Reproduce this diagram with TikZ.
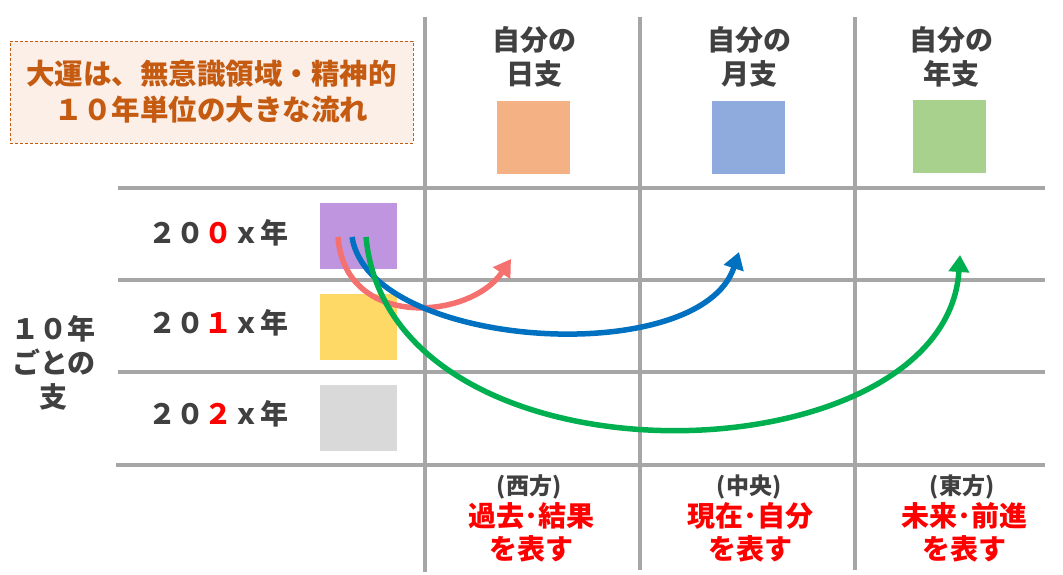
\documentclass[tikz,border=0pt]{standalone}
\usepackage{fontspec}
\setmainfont{Noto Sans CJK JP}
\usetikzlibrary{arrows.meta}
\usetikzlibrary{positioning}

\definecolor{gridgray}{HTML}{A6A6A6}
\definecolor{textgray}{HTML}{404040}
\definecolor{textred}{HTML}{FF0000}
\definecolor{boxbrown}{HTML}{C55A11}
\definecolor{boxfill}{HTML}{FBEFE8}
\definecolor{dayorange}{HTML}{F4B183}
\definecolor{monthblue}{HTML}{8FAADC}
\definecolor{yeargreen}{HTML}{A9D18E}
\definecolor{purplesq}{HTML}{BF95DF}
\definecolor{yellowsq}{HTML}{FFD966}
\definecolor{graysq}{HTML}{D9D9D9}
\definecolor{arrowred}{HTML}{F4716F}
\definecolor{arrowblue}{HTML}{0070C0}
\definecolor{arrowgreen}{HTML}{00B050}

\tikzset{
  gridline/.style={draw=gridgray, line width=3.5pt},
  bigtext/.style={font=\fontsize{28}{34}\selectfont\bfseries, inner sep=0pt, align=center},
  hdr/.style={bigtext, text=textgray},
  yearlbl/.style={bigtext, text=textgray, anchor=west},
  dirlbl/.style={font=\fontsize{23}{27}\selectfont\bfseries, inner sep=0pt, text=textgray},
  meaning/.style={font=\fontsize{28}{33}\selectfont\bfseries, inner sep=0pt, align=center, text=textred},
  topsq/.style={rectangle, inner sep=0pt, minimum width=73pt, minimum height=73pt},
  rowsq/.style={rectangle, inner sep=0pt, minimum width=77pt, minimum height=66pt},
  flow/.style={line width=5.5pt, -{Triangle[length=17pt,width=20pt]}}
}

\begin{document}
\begin{tikzpicture}[x=1pt,y=-1pt]
      \useasboundingbox (0,0) rectangle (1063,574);

      \draw[gridline] (425,17) -- (425,572);
      \draw[gridline] (640,17) -- (640,570);
      \draw[gridline] (855,17) -- (855,570);
      \draw[gridline] (118,188) -- (1045,188);
      \draw[gridline] (118,280) -- (1045,280);
      \draw[gridline] (118,372) -- (1045,372);
      \draw[gridline] (116,465) -- (1045,465);

      \node[draw=boxbrown, dash pattern=on 3pt off 2pt, line width=1pt, fill=boxfill,
        minimum width=403pt, minimum height=102pt, inner sep=0pt,
        font=\fontsize{28.5}{36}\selectfont\bfseries, text=boxbrown, align=center]
        (flowbox) at (211.5,92) {大運は、無意識領域・精神的\\１０年単位の大きな流れ};

      \node[hdr] (hdrDay) at (534,57) {自分の\\日支};
      \node[hdr] (hdrMonth) at (749,57) {自分の\\月支};
      \node[hdr] (hdrYear) at (951,57) {自分の\\年支};

      \node[topsq, fill=dayorange] (sqDay) at (533,137) {};
      \node[topsq, fill=monthblue] (sqMonth) at (748.5,137) {};
      \node[topsq, fill=yeargreen] (sqYear) at (949.5,136) {};

      \node[hdr] (decade) at (54,363) {１０年\\ごとの\\支};

      \node[yearlbl] (yr0) at (148,233) {２０{\color{textred}０}ｘ年};
      \node[yearlbl] (yr1) at (148,323) {２０{\color{textred}１}ｘ年};
      \node[yearlbl] (yr2) at (148,414) {２０{\color{textred}２}ｘ年};

      \node[rowsq, fill=purplesq] (sq0) at (358.5,236) {};
      \node[rowsq, fill=yellowsq] (sq1) at (358.5,326.5) {};
      \node[rowsq, fill=graysq] (sq2) at (358.5,417.5) {};

      \node[dirlbl] (dirWest) at (529,487) {(西方)};
      \node[dirlbl] (dirCenter) at (749,487) {(中央)};
      \node[dirlbl] (dirEast) at (962,487) {(東方)};

      \node[meaning] (meanWest) at (531,532.5) {過去･結果\\を表す};
      \node[meaning] (meanCenter) at (750,532.5) {現在･自分\\を表す};
      \node[meaning] (meanEast) at (964,532.5) {未来･前進\\を表す};

      \coordinate (redStart) at (338,237);
      \coordinate (blueStart) at (352,237);
      \coordinate (greenStart) at (366,237);
      \coordinate (redEnd) at (511,259);
      \coordinate (blueEnd) at (739,252);
      \coordinate (greenEnd) at (960,255);

      \draw[flow, arrowred] (redStart) .. controls (345,330) and (470,320) .. (redEnd);
      \draw[flow, arrowblue] (blueStart) .. controls (370,350) and (700,370) .. (blueEnd);
      \draw[flow, arrowgreen] (greenStart) .. controls (390,497) and (945,482) .. (greenEnd);

    \end{tikzpicture}
\end{document}
